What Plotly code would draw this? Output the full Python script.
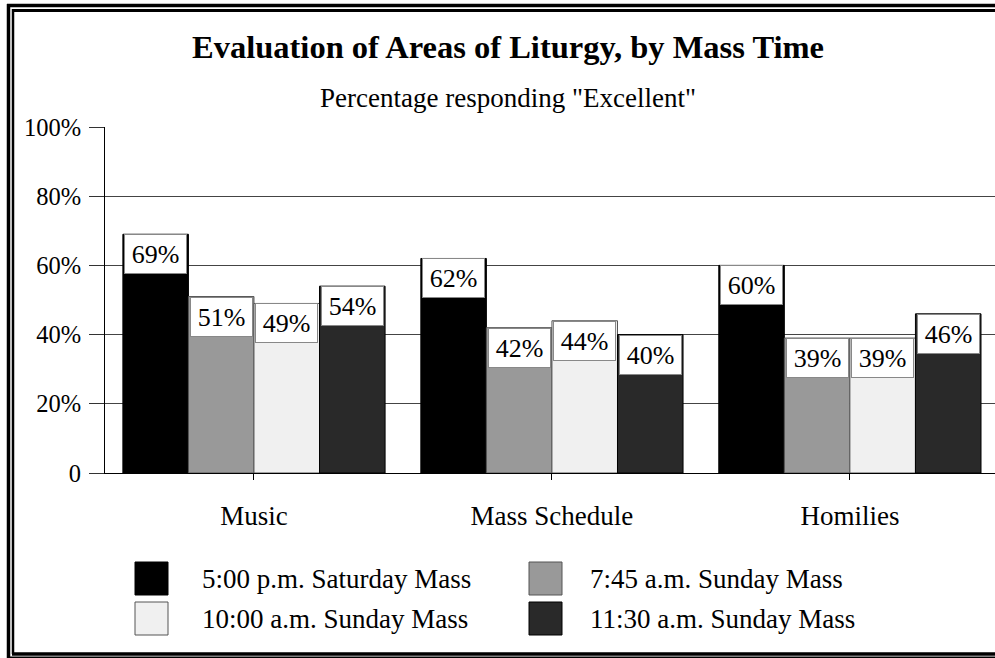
import plotly.graph_objects as go

categories = ["Music", "Mass Schedule", "Homilies"]
series_names = ["5:00 p.m. Saturday Mass", "7:45 a.m. Sunday Mass",
                "10:00 a.m. Sunday Mass", "11:30 a.m. Sunday Mass"]
sat_500pm = [69, 62, 60]
sun_745am = [51, 42, 39]
sun_1000am = [49, 44, 39]
sun_1130am = [54, 40, 46]
series_values = [sat_500pm, sun_745am, sun_1000am, sun_1130am]
colors = ["#000000", "#999999", "#f0f0f0", "#292929"]
outline = ["#000000", "#555555", "#555555", "#000000"]
ytick_vals = [0, 20, 40, 60, 80, 100]
ytick_text = ["0", "20%", "40%", "60%", "80%", "100%"]

W, H = 995, 658
L, T, B = 105, 127, 473
PW = W - L
PH = B - T
FONT = "Liberation Serif, Times New Roman, serif"


def px(x):
    return (x - L) / PW


def py(y):
    return (B - y) / PH


fig = go.Figure()
n = len(series_names)
bargap = 0.12
bw = (1 - bargap) / n
for j, (name, vals) in enumerate(zip(series_names, series_values)):
    fig.add_trace(go.Bar(
        x=categories, y=vals, name=name,
        marker=dict(color=colors[j], line=dict(color=outline[j], width=1)),
        showlegend=False, hoverinfo="skip",
    ))

annotations = []
for j, vals in enumerate(series_values):
    off = -(1 - bargap) / 2 + bw * (j + 0.5)
    for i, v in enumerate(vals):
        annotations.append(dict(
            x=i + off, y=v, xref="x", yref="y", yanchor="top",
            text=f"{v}%", showarrow=False,
            font=dict(family=FONT, size=26, color="black"),
            bgcolor="white", bordercolor="#888888", borderwidth=1, borderpad=1,
            width=59, height=36, valign="middle",
        ))

# title and subtitle
annotations.append(dict(x=px(508), y=py(47), xref="paper", yref="paper",
                        xanchor="center", yanchor="middle",
                        text="<b>Evaluation of Areas of Liturgy, by Mass Time</b>",
                        showarrow=False, font=dict(family=FONT, size=32.5, color="black")))
annotations.append(dict(x=px(508), y=py(98), xref="paper", yref="paper",
                        xanchor="center", yanchor="middle",
                        text='Percentage responding "Excellent"',
                        showarrow=False, font=dict(family=FONT, size=27, color="black")))

shapes = []
# legend
leg_pos = [(135, 562), (529, 562), (135, 602), (529, 602)]
leg_text_x = [200, 588, 200, 588]
order = [0, 1, 2, 3]
for k, j in enumerate(order):
    x0, y0 = leg_pos[k]
    shapes.append(dict(type="rect", xref="paper", yref="paper",
                       x0=px(x0), x1=px(x0 + 33), y0=py(y0), y1=py(y0 + 33),
                       fillcolor=colors[j], line=dict(color=outline[j], width=1)))
    annotations.append(dict(x=px(leg_text_x[k]), y=py(y0 + 17), xref="paper", yref="paper",
                            xanchor="left", yanchor="middle", text=series_names[j],
                            showarrow=False, font=dict(family=FONT, size=27, color="black")))


def vline(x, y0, y1, w):
    return dict(type="line", xref="paper", yref="paper", x0=px(x), x1=px(x),
                y0=py(y0), y1=py(y1), line=dict(color="black", width=w))


def hline(y, x0, w):
    return dict(type="line", xref="paper", yref="paper", x0=px(x0), x1=px(W + 20),
                y0=py(y), y1=py(y), line=dict(color="black", width=w))

shapes += [
    hline(5.5, 7, 3.5),
    vline(8.5, 4, H, 3.5),
    hline(10.5, 12, 3),
    vline(13, 9, 654, 2.5),
    hline(654, 12, 3.5),
    hline(658, 7, 3),
]

fig.update_layout(
    width=W, height=H,
    margin=dict(l=L, r=0, t=T, b=H - B, pad=0),
    paper_bgcolor="white", plot_bgcolor="white",
    barmode="group", bargap=bargap, bargroupgap=0,
    font=dict(family=FONT, size=24, color="black"),
    annotations=annotations, shapes=shapes,
    showlegend=False, hovermode=False,
)
fig.update_xaxes(
    type="category", range=[-0.5, 2.487],
    showline=True, linecolor="black", linewidth=1,
    ticks="outside", ticklen=6, tickcolor="black",
    tickfont=dict(family=FONT, size=27), showgrid=False,
    ticklabelstandoff=13,
)
fig.update_yaxes(
    range=[0, 100], tickvals=ytick_vals, ticktext=ytick_text,
    showline=True, linecolor="black", linewidth=1,
    ticks="outside", ticklen=15, tickcolor="#333333",
    showgrid=True, gridcolor="#444444", gridwidth=1,
    tickfont=dict(family=FONT, size=24.5), zeroline=False,
    ticklabelstandoff=3,
)

fig.write_html("out.html", config={"displayModeBar": False},
               post_script="document.documentElement.style.overflow='hidden';document.body.style.margin='0';document.body.style.overflow='hidden';")
